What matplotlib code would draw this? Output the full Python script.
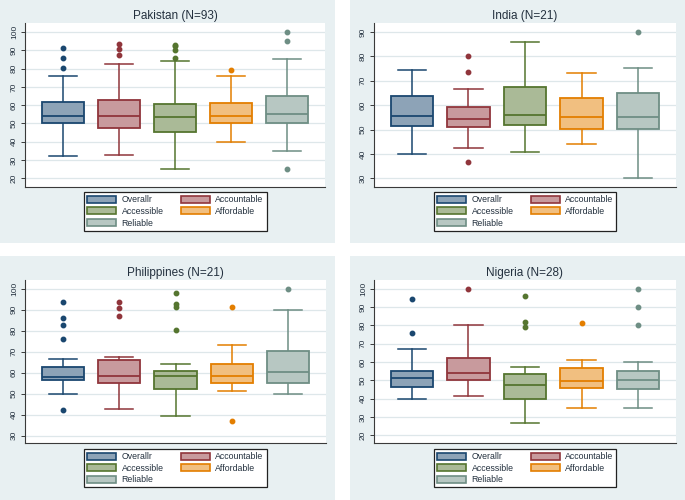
import matplotlib
matplotlib.use("Agg")
import matplotlib.pyplot as plt
from matplotlib.patches import Rectangle, Patch
import numpy as np

plt.rcParams['font.family'] = ['Liberation Sans', 'DejaVu Sans']

countries = ["Pakistan", "India", "Philippines", "Nigeria"]
n_obs = [93, 21, 21, 28]
series = ["Overallr", "Accountable", "Accessible", "Affordable", "Reliable"]

# per-country box statistics, one value per series
whisker_low = [[32, 32.6, 25.1, 40, 35],
               [40, 42.6, 40.9, 44.1, 30],
               [49.7, 42.6, 39.4, 51.2, 50],
               [40, 41.7, 26.7, 35.1, 35.1]]
quart1 = [[50, 47.7, 45.3, 50, 50],
          [51.6, 50.9, 51.7, 50.1, 50.1],
          [56.3, 55.1, 52, 55.1, 55.1],
          [46.2, 49.9, 40, 45.7, 45]]
median = [[54.1, 54.3, 53.5, 54.1, 55.2],
          [55.4, 54.3, 56, 55.2, 55.2],
          [58, 58.5, 58.5, 58.2, 60.1],
          [51.5, 54.1, 47.2, 49.7, 50.1]]
quart3 = [[61.7, 62.6, 60.6, 61, 65],
          [63.6, 59.2, 67.4, 63.1, 65],
          [62.8, 66.1, 60.9, 64, 70.1],
          [55.2, 62.1, 53.5, 56.8, 55.2]]
whisker_high = [[76.1, 82.7, 84.3, 75.9, 85.1],
                [74.4, 66.8, 85.9, 73.2, 75.1],
                [66.4, 67.5, 64.2, 73, 90],
                [67.2, 80.1, 57.4, 61, 60.1]]
outliers = [[[80.1, 85.6, 91.3], [87.6, 90.9, 93.4], [86, 90, 92.3, 93], [79.2], [25.1, 95.1, 100]],
            [[], [36.7, 73.6, 80.3], [], [], [90]],
            [[42.4, 76.1, 82.5, 85.8, 93.5], [86.8, 90.9, 93.5], [80.1, 91.4, 92.5, 97.8], [37.2, 91.1], [100]],
            [[75.8, 94.4], [100], [79.2, 82, 96.2], [81.2], [80.1, 90.2, 100]]]

ytick_range = [(20, 100), (30, 90), (30, 100), (20, 100)]
ylims = [(15.3, 104.9), (26.45, 93.7), (26.5, 104.1), (15.8, 104.7)]

colors = ["#1A476F", "#90353B", "#55752F", "#E37E00", "#6E8E84"]

def lighten(c, f=0.5):
    rgb = np.array(matplotlib.colors.to_rgb(c))
    return tuple(rgb * (1 - f) + f)

fills = [lighten(c) for c in colors]

W, H = 685, 500
fig = plt.figure(figsize=(W / 100, H / 100), dpi=100, facecolor="white")
BG = "#E8F0F2"
GRID = "#DEE7EA"
TXT = "#24313F"

bg_rects = [(0, 0, 335, 243), (350, 0, 685, 243), (0, 256, 335, 500), (350, 256, 685, 500)]
ax_rects = [(25, 23, 325, 187), (374, 23, 676, 187), (25, 280, 326, 443), (374, 280, 676, 443)]
leg_rects = [(84.3, 192.3, 266.7), (434.3, 192.3, 616.3), (84.3, 449, 266.7), (434.3, 449, 616.3)]

def fx(x):
    return x / W

def fy(y):
    return 1 - y / H

for i, cname in enumerate(countries):
    l, t, r, b = bg_rects[i]
    fig.patches.append(Rectangle((fx(l), fy(b)), fx(r - l), (b - t) / H,
                                 transform=fig.transFigure, facecolor=BG, edgecolor="none", zorder=-10))
    l, t, r, b = ax_rects[i]
    ax = fig.add_axes([fx(l), fy(b), fx(r - l), (b - t) / H])
    ax.set_facecolor("white")

    stats = []
    for j in range(len(series)):
        stats.append(dict(med=median[i][j], q1=quart1[i][j], q3=quart3[i][j],
                          whislo=whisker_low[i][j], whishi=whisker_high[i][j],
                          fliers=outliers[i][j], label=series[j]))
    pos = np.arange(1, len(series) + 1)
    bp = ax.bxp(stats, positions=pos, widths=0.75, capwidths=0.5, patch_artist=True,
                showfliers=True, manage_ticks=False)
    for j in range(len(series)):
        c = colors[j]
        bp['boxes'][j].set(facecolor=fills[j], edgecolor=c, linewidth=1.3, zorder=3)
        bp['medians'][j].set(color=c, linewidth=1.3, zorder=4)
        for k in (2 * j, 2 * j + 1):
            bp['whiskers'][k].set(color=c, linewidth=1.1)
            bp['caps'][k].set(color=c, linewidth=1.1)
        bp['fliers'][j].set(marker="o", markerfacecolor=c, markeredgecolor=c,
                            markersize=3.2, linestyle="none")

    ax.set_xlim(0.33, 5.67)
    ax.set_ylim(*ylims[i])
    lo, hi = ytick_range[i]
    ax.set_yticks(np.arange(lo, hi + 1, 10))
    ax.yaxis.grid(True, color=GRID, linewidth=0.9, zorder=0)
    ax.set_axisbelow(True)
    ax.set_xticks([])
    for s in ("top", "right"):
        ax.spines[s].set_visible(False)
    for s in ("left", "bottom"):
        ax.spines[s].set_color("#3A3A3A")
        ax.spines[s].set_linewidth(0.8)
    ax.tick_params(axis="y", direction="out", length=3, width=0.7, color="#3A3A3A",
                   labelsize=6, labelcolor=TXT, pad=2)
    for lab in ax.get_yticklabels():
        lab.set_rotation(90)
        lab.set_va("center")
    ax.set_title(f"{cname} (N={n_obs[i]})", fontsize=8.5, color=TXT, pad=3)

    handles = [Patch(facecolor=fills[j], edgecolor=colors[j], linewidth=1.2) for j in range(5)]
    order = [0, 2, 4, 1, 3]
    x0, ytop, x1 = leg_rects[i]
    leg = ax.legend([handles[k] for k in order], [series[k] for k in order], ncol=2,
                    loc="upper left", bbox_to_anchor=(fx(x0), fy(ytop), fx(x1 - x0), 0),
                    bbox_transform=fig.transFigure, mode="expand", fontsize=6.3,
                    frameon=True, fancybox=False, edgecolor="#222222", framealpha=1,
                    borderpad=0.35, borderaxespad=0, handlelength=3.3, handleheight=0.85,
                    handletextpad=0.6, labelspacing=0.3, columnspacing=1.0)
    leg.get_frame().set_linewidth(0.9)
    for txt in leg.get_texts():
        txt.set_color(TXT)

fig.savefig("out.png", dpi=100, facecolor="white")
